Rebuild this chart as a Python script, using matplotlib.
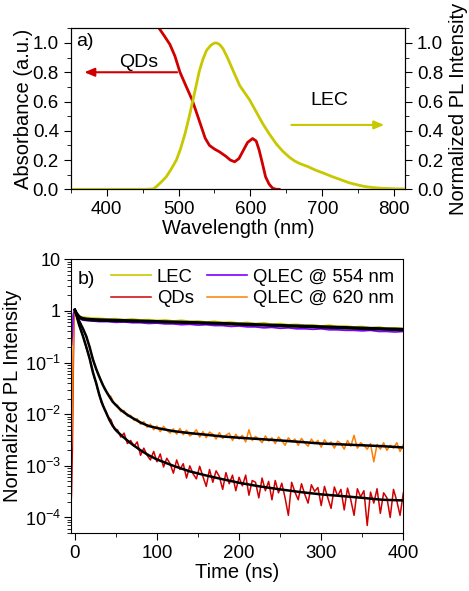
import numpy as np
import matplotlib
matplotlib.use('Agg')
import matplotlib.pyplot as plt
from matplotlib.ticker import MultipleLocator, LogLocator, NullFormatter, FuncFormatter

plt.rcParams['font.family'] = ['Liberation Sans', 'DejaVu Sans']
plt.rcParams['mathtext.fontset'] = 'custom'
plt.rcParams['mathtext.rm'] = 'Liberation Sans'

# ---- panel a) : absorbance of QDs and PL of LEC ----
abs_nm = [470, 473, 480, 488, 495, 502, 510, 519, 526, 531.5, 537, 543, 550, 557, 566,
          572, 578, 584, 590, 596, 603, 608, 612, 617, 621, 626, 631, 636, 640]
abs_val = [1.15, 1.10, 1.05, 0.99, 0.91, 0.80, 0.71, 0.61, 0.51, 0.43, 0.35, 0.30, 0.275, 0.256, 0.225,
           0.20, 0.188, 0.21, 0.265, 0.32, 0.347, 0.33, 0.27, 0.17, 0.086, 0.035, 0.007, 0.0, 0.0]

pl_nm = [350, 400, 455, 465, 469, 476, 483, 490, 497, 503, 509, 515, 520, 525, 529, 534, 539, 545,
         550, 553, 557, 562, 568, 576, 585, 592, 599, 608, 617, 626, 636, 645, 654, 661, 668, 680,
         691, 703, 714, 726, 737, 749, 760, 772, 783, 800, 815]
pl_val = [0, 0, 0, 0.003, 0.018, 0.05, 0.086, 0.14, 0.2, 0.28, 0.38, 0.5, 0.61, 0.72, 0.81, 0.89,
          0.95, 0.985, 1.0, 1.0, 0.99, 0.96, 0.90, 0.81, 0.71, 0.66, 0.61, 0.53, 0.45, 0.38, 0.31,
          0.26, 0.22, 0.195, 0.177, 0.155, 0.13, 0.108, 0.086, 0.065, 0.045, 0.03, 0.018, 0.011,
          0.007, 0.004, 0.002]

# ---- panel b) : PL decays ----
t_rise = [-5, -4, -3, -2, -1, 0]
t_early = [2, 4, 6, 8, 10, 12, 14, 16, 18, 20, 22, 24, 26, 28, 30, 32, 34, 36, 38, 40]
t_tail = list(range(44, 401, 4))
t_flat = [2, 4, 6, 8] + list(range(10, 401, 10))

qd_rise = [1.2e-4, 3e-4, 2e-3, 0.05, 0.7, 1.05]
qd_early = [0.82, 0.62, 0.49, 0.40, 0.32, 0.25, 0.19, 0.15, 0.118, 0.086, 0.066, 0.049, 0.040,
            0.029, 0.024, 0.017, 0.0155, 0.0125, 0.0112, 0.0090]
qd_tail = [0.0078, 0.0052, 0.0050, 0.0036, 0.0043, 0.0027, 0.0031, 0.0024, 0.0029, 0.0016,
           0.0022, 0.0016, 0.0013, 0.0019, 0.0012, 0.0017, 0.00095, 0.0014, 0.0011, 0.00072,
           0.0013, 0.00085, 0.0011, 0.00058, 0.00100, 0.00070, 0.00056, 0.00098, 0.00062, 0.00040,
           0.00085, 0.00048, 0.00080, 0.00062, 0.00035, 0.00074, 0.00045, 0.00066, 0.00033, 0.00060,
           0.00041, 0.00066, 0.00027, 0.00052, 0.00048, 0.00024, 0.00058, 0.00033, 0.00050, 0.00022,
           0.00052, 0.00030, 0.00046, 0.00024, 0.00011, 0.00048, 0.00031, 0.00022, 0.00045, 0.00028,
           0.00019, 0.00043, 0.00032, 0.00038, 0.00017, 0.00040, 0.00024, 0.00015, 0.00039, 0.00026,
           0.00035, 0.00014, 0.00037, 0.00022, 0.00011, 0.00036, 0.00025, 0.00033, 0.00007, 0.00031,
           0.00019, 0.00036, 0.00012, 0.00030, 0.00024, 0.00010, 0.00035, 0.00021, 0.00011, 0.00030]

q620_rise = [1.5e-3, 2.5e-3, 0.01, 0.15, 0.8, 1.05]
q620_early = [0.86, 0.71, 0.61, 0.50, 0.45, 0.37, 0.33, 0.24, 0.205, 0.145, 0.118, 0.090, 0.077,
              0.060, 0.054, 0.044, 0.039, 0.031, 0.029, 0.024]
q620_tail = [0.022, 0.016, 0.0150, 0.0112, 0.0118, 0.0092, 0.0095, 0.0076, 0.0082, 0.0064,
             0.0072, 0.0056, 0.0064, 0.0050, 0.0059, 0.0046, 0.0058, 0.0049, 0.0043, 0.0052,
             0.0041, 0.0053, 0.0040, 0.0049, 0.0038, 0.0042, 0.0050, 0.0036, 0.0046, 0.0035,
             0.0045, 0.0041, 0.0033, 0.0044, 0.0034, 0.0039, 0.0043, 0.0031, 0.0041, 0.0033,
             0.0039, 0.0029, 0.0050, 0.0031, 0.0037, 0.0033, 0.0028, 0.0038, 0.0030, 0.0035,
             0.0027, 0.0036, 0.0031, 0.0025, 0.0035, 0.0029, 0.0033, 0.0025, 0.0034, 0.0028,
             0.0024, 0.0033, 0.0027, 0.0031, 0.0023, 0.0032, 0.0026, 0.0029, 0.0022, 0.0030,
             0.0027, 0.0021, 0.0031, 0.0024, 0.0039, 0.0022, 0.0028, 0.0025, 0.0021, 0.0027,
             0.0012, 0.0026, 0.0021, 0.0028, 0.0020, 0.0025, 0.0022, 0.0028, 0.0019, 0.0026]

lec_rise = [0.22, 0.25, 0.4, 0.85, 1.0, 1.08]
lec_flat = [0.93, 0.85, 0.79, 0.76,
            0.76, 0.73, 0.72, 0.70, 0.71, 0.68, 0.70, 0.67, 0.68, 0.655,
            0.67, 0.64, 0.66, 0.63, 0.64, 0.61, 0.63, 0.60, 0.61, 0.58,
            0.60, 0.57, 0.59, 0.55, 0.57, 0.54, 0.55, 0.53, 0.54, 0.51,
            0.53, 0.50, 0.51, 0.49, 0.50, 0.47, 0.49, 0.46, 0.47, 0.455]

q554_rise = [0.2, 0.22, 0.35, 0.8, 0.98, 1.05]
q554_flat = [0.88, 0.77, 0.71, 0.68,
             0.66, 0.64, 0.62, 0.62, 0.60, 0.61, 0.59, 0.59, 0.57, 0.58,
             0.56, 0.56, 0.54, 0.55, 0.53, 0.54, 0.52, 0.52, 0.50, 0.51,
             0.49, 0.49, 0.47, 0.48, 0.46, 0.47, 0.45, 0.45, 0.44, 0.45,
             0.43, 0.43, 0.42, 0.42, 0.41, 0.42, 0.40, 0.40, 0.39, 0.40]

# fitted curves
fit_t_fast = [0, 5, 10, 14, 18, 22, 26, 30, 34, 38, 42, 46, 50, 55, 60, 65, 70, 80, 90, 100,
              120, 140, 160, 180, 200, 225, 250, 275, 300, 325, 350, 375, 400]
qd_fit = [1.05, 0.55, 0.32, 0.20, 0.12, 0.065, 0.040, 0.023, 0.015, 0.0108, 0.0078, 0.0060,
          0.0049, 0.0041, 0.0035, 0.0030, 0.0026, 0.0020, 0.0016, 0.00133, 0.00100, 0.00078,
          0.00065, 0.00055, 0.00047, 0.00040, 0.00035, 0.00031, 0.00028, 0.00026, 0.00024,
          0.00022, 0.000214]
q620_fit = [1.05, 0.65, 0.45, 0.32, 0.20, 0.115, 0.075, 0.052, 0.037, 0.028, 0.022, 0.0175,
            0.015, 0.0125, 0.0108, 0.0095, 0.0085, 0.0069, 0.0059, 0.0054, 0.0047, 0.0043,
            0.0040, 0.0037, 0.0035, 0.0033, 0.0031, 0.0029, 0.0027, 0.0026, 0.0025, 0.0024,
            0.00227]
fit_t_slow = [0, 2, 4, 6, 8, 10, 15, 20, 30, 50, 75, 100, 150, 200, 250, 300, 350, 400]
lec_fit = [1.05, 0.92, 0.83, 0.77, 0.74, 0.72, 0.70, 0.69, 0.68, 0.665, 0.65, 0.63, 0.60,
           0.565, 0.53, 0.50, 0.47, 0.445]
q554_fit = [1.05, 0.90, 0.80, 0.74, 0.71, 0.69, 0.67, 0.66, 0.65, 0.64, 0.625, 0.61, 0.58,
            0.545, 0.51, 0.48, 0.45, 0.425]

red = '#D00000'
yel = '#C8C800'
pur = '#8000FF'
ora = '#FF8000'

fig = plt.figure(figsize=(4.69, 5.91), dpi=100)
FS = 14.5   # axis labels
TS = 13.5   # tick labels

# ---------------- top panel ----------------
ax = fig.add_axes([0.1508, 0.6797, 0.8635 - 0.1508, 0.952 - 0.6797])
ax2 = ax.twinx()
ax.plot(abs_nm, abs_val, color=red, lw=2)
ax2.plot(pl_nm, pl_val, color=yel, lw=2)
for a in (ax, ax2):
    a.set_ylim(0, 1.1)
    a.yaxis.set_major_locator(MultipleLocator(0.2))
    a.yaxis.set_minor_locator(MultipleLocator(0.1))
    a.yaxis.set_major_formatter(FuncFormatter(lambda v, p: f'{v:.1f}'))
    a.tick_params(which='both', direction='out', labelsize=TS)
    a.tick_params(which='major', length=5)
    a.tick_params(which='minor', length=3)
ax.set_xlim(350, 815)
ax.xaxis.set_major_locator(MultipleLocator(100))
ax.xaxis.set_minor_locator(MultipleLocator(50))
ax.set_xlabel('Wavelength (nm)', fontsize=FS, labelpad=1)
ax.set_ylabel('Absorbance (a.u.)', fontsize=FS, labelpad=0)
ax2.set_ylabel('Normalized PL Intensity', fontsize=FS, labelpad=4)

ax.annotate('', xy=(365, 0.8), xytext=(502, 0.8),
            arrowprops=dict(arrowstyle='-|>,head_length=0.6,head_width=0.25', color=red, lw=1.5))
ax.text(444, 0.87, 'QDs', fontsize=14, ha='center', va='center')
ax2.annotate('', xy=(790, 0.44), xytext=(653, 0.44),
             arrowprops=dict(arrowstyle='-|>,head_length=0.6,head_width=0.25', color=yel, lw=1.5))
ax2.text(710, 0.61, 'LEC', fontsize=14, ha='center', va='center')
ax.text(0.015, 0.92, 'a)', transform=ax.transAxes, fontsize=14, ha='left', va='center')

# ---------------- bottom panel ----------------
bx = fig.add_axes([0.1508, 0.0981, 0.860 - 0.1508, 0.5613 - 0.0981])
bx.plot(t_rise + t_early + t_tail, qd_rise + qd_early + qd_tail, color=red, lw=1.1, label='QDs')
bx.plot(t_rise + t_early + t_tail, q620_rise + q620_early + q620_tail, color=ora, lw=1.1,
        label='QLEC @ 620 nm')
bx.plot(t_rise + t_flat, lec_rise + lec_flat, color=yel, lw=1.2, label='LEC')
bx.plot(t_rise + t_flat, q554_rise + q554_flat, color=pur, lw=1.2, label='QLEC @ 554 nm')
for ft, fv in ((fit_t_fast, qd_fit), (fit_t_fast, q620_fit), (fit_t_slow, lec_fit), (fit_t_slow, q554_fit)):
    bx.plot(ft, fv, color='k', lw=1.8)

bx.set_yscale('log')
bx.set_ylim(5e-5, 10)
bx.set_xlim(-5, 400)
bx.xaxis.set_major_locator(MultipleLocator(100))
bx.xaxis.set_minor_locator(MultipleLocator(50))
bx.yaxis.set_major_locator(LogLocator(base=10, numticks=10))
bx.yaxis.set_minor_locator(LogLocator(base=10, subs=np.arange(2, 10), numticks=20))
bx.yaxis.set_minor_formatter(NullFormatter())


def logfmt(v, p):
    e = int(round(np.log10(v)))
    if e == 1:
        return '10'
    if e == 0:
        return '1'
    return '10$^{\\mathregular{%d}}$' % e


bx.yaxis.set_major_formatter(FuncFormatter(logfmt))
bx.tick_params(which='both', direction='out', labelsize=TS, top=False, right=False)
bx.tick_params(axis='y', pad=2, labelsize=13)
bx.tick_params(which='major', length=5)
bx.tick_params(which='minor', length=3)
bx.set_xlabel('Time (ns)', fontsize=FS, labelpad=1)
bx.set_ylabel('Normalized PL Intensity', fontsize=FS, labelpad=2)
bx.text(0.02, 0.925, 'b)', transform=bx.transAxes, fontsize=14, ha='left', va='center')

h, l = bx.get_legend_handles_labels()
order = [2, 0, 3, 1]
bx.legend([h[i] for i in order], [l[i] for i in order], ncol=2, frameon=False, fontsize=13.3,
          loc='upper right', bbox_to_anchor=(1.0, 1.0), handlelength=2.2, handletextpad=0.3,
          columnspacing=0.7, labelspacing=0.25, borderaxespad=0.1)

fig.savefig('out.png', dpi=100)
